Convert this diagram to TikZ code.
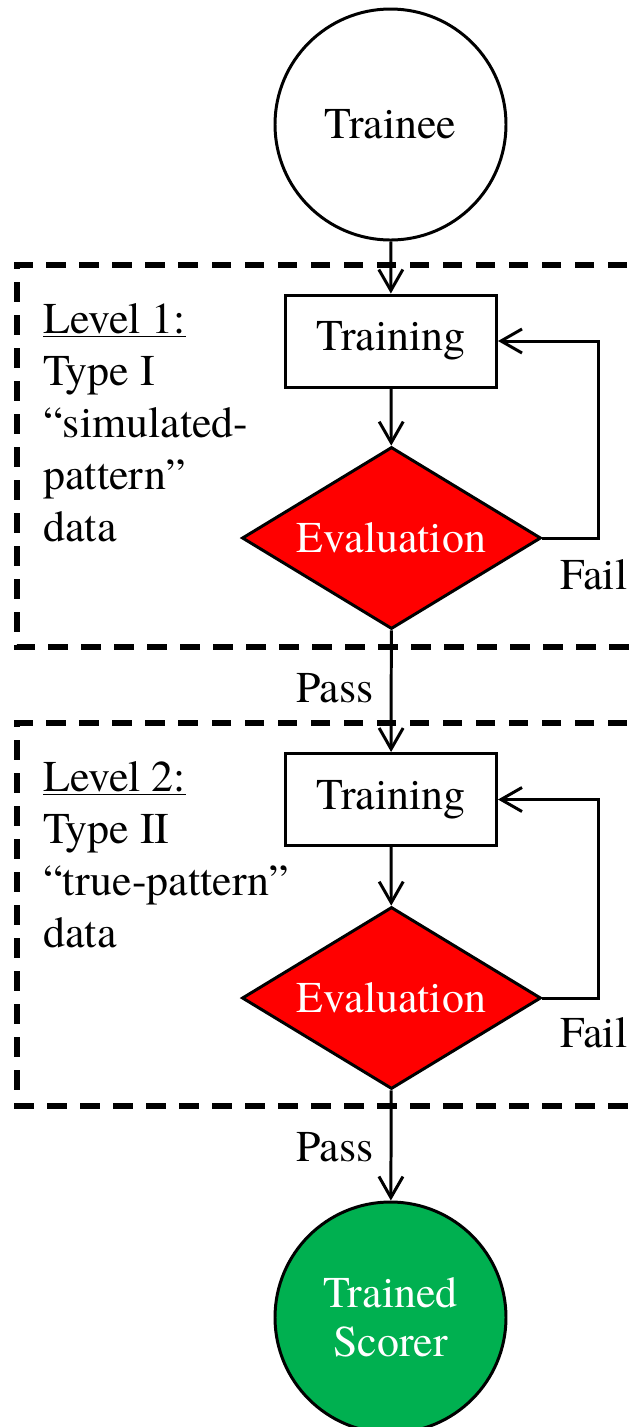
\documentclass[tikz,border=0pt]{standalone}
\usepackage{fontspec}
\setmainfont{texgyretermes}[Extension=.otf,UprightFont=*-regular,BoldFont=*-bold,ItalicFont=*-italic,BoldItalicFont=*-bolditalic]
\usepackage{tikz}
\usetikzlibrary{shapes.geometric,arrows.meta}
\definecolor{evalred}{RGB}{255,0,0}
\definecolor{donegreen}{RGB}{0,176,80}

\begin{document}
\begin{tikzpicture}[
		font=\fontsize{25}{29.6}\selectfont,
		line width=1.7pt,
		>={Straight Barb[length=0.42cm,width=0.48cm]},
		person/.style={circle,draw,minimum size=4.62cm,inner sep=0pt},
		trainbox/.style={rectangle,draw,minimum width=4.22cm,minimum height=1.84cm,inner sep=0pt},
		evalbox/.style={diamond,draw,fill=evalred,text=white,shape aspect=1.63,minimum width=5.98cm,minimum height=3.64cm,inner sep=0pt},
		levelbox/.style={dash pattern=on 0.39cm off 0.27cm,line width=3pt}
	]
			\clip (0,0) rectangle (12.64,-28.54);
			\coordinate (loopx) at (11.97,0);
			% the two levels
			\draw[levelbox] (13.2,-5.30) -- (0.34,-5.30) -- (0.34,-12.94) -- (13.2,-12.94);
			\draw[levelbox] (13.2,-14.46) -- (0.34,-14.46) -- (0.34,-22.12) -- (13.2,-22.12);
			\node[anchor=north west,inner sep=0pt,align=left] (lvl1) at (0.84,-6.04)
				{\underline{Level 1:}\\Type I\\“simulated-\\pattern”\\data};
			\node[anchor=north west,inner sep=0pt,align=left] (lvl2) at (0.84,-15.20)
				{\underline{Level 2:}\\Type II\\“true-pattern”\\data};
			% flow
			\node[person] (trainee) at (7.81,-2.49) {Trainee};
			\node[trainbox] (train1) at (7.82,-6.82) {Training};
			\node[evalbox] (eval1) at (7.83,-10.76) {Evaluation};
			\node[trainbox] (train2) at (7.82,-15.99) {Training};
			\node[evalbox] (eval2) at (7.83,-19.96) {Evaluation};
			\node[person,fill=donegreen,text=white,align=center] (scorer) at (7.81,-26.35)
				{Trained\\[-0.05cm]Scorer};
			\draw[->] (trainee) -- (train1);
			\draw[->] (train1) -- (eval1);
			\draw[->] (eval1) -- (train2);
			\draw[->] (train2) -- (eval2);
			\draw[->] (eval2) -- (scorer);
			\draw[->] (eval1.east) -- (eval1.east -| loopx) |- (train1.east);
			\draw[->] (eval2.east) -- (eval2.east -| loopx) |- (train2.east);
			% labels
			\node[anchor=base west,inner sep=0pt] (fail1) at (11.18,-11.78) {Fail};
			\node[anchor=base west,inner sep=0pt] (fail2) at (11.18,-20.94) {Fail};
			\node[anchor=base east,inner sep=0pt] (pass1) at (7.50,-14.04) {Pass};
			\node[anchor=base east,inner sep=0pt] (pass2) at (7.50,-23.22) {Pass};
		\end{tikzpicture}
\end{document}
